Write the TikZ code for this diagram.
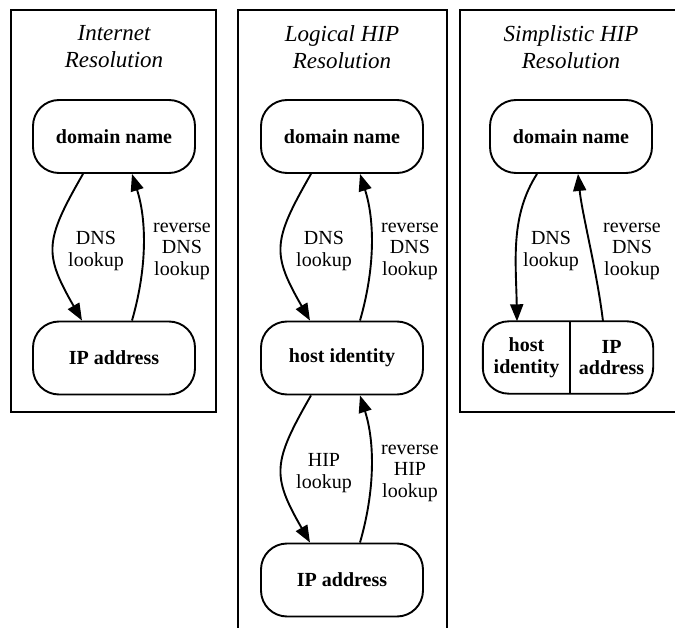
\documentclass[tikz,border=0pt]{standalone}
\usepackage{fontspec}
\setmainfont{Liberation Serif}
\usetikzlibrary{arrows.meta}
\begin{document}
\begin{tikzpicture}[x=1pt,y=-1pt,
  cluster/.style={draw,line width=1.9pt},
  gnode/.style={draw,line width=1.9pt,rounded corners=26pt,minimum width=162pt,minimum height=73pt,inner sep=0pt,align=center,font=\fontsize{20}{21.5}\selectfont\bfseries},
  rpart/.style={minimum height=72pt,inner sep=0pt,align=center,font=\fontsize{20}{21.5}\selectfont\bfseries},
  title/.style={align=center,inner sep=0pt,font=\fontsize{23}{27}\selectfont\itshape},
  elabel/.style={align=center,inner sep=0pt,font=\fontsize{20}{21.5}\selectfont},
  edge/.style={line width=1.9pt,-{Triangle[length=17pt,width=13pt]}}
]
\useasboundingbox (0,0) rectangle (675,628);
% clusters
\draw[cluster] (11,10) rectangle (216,412);
\draw[cluster] (238,640) -- (238,10) -- (447,10) -- (447,640);
\draw[cluster] (690,412) -- (460,412) -- (460,10) -- (690,10);
% titles
\node[title] (t1) at (114,47) {Internet\\Resolution};
\node[title] (t2) at (342,47) {Logical HIP\\Resolution};
\node[title] (t3) at (571,47) {Simplistic HIP\\Resolution};
% panel 1
\node[gnode] (dn1) at (114,136.5) {domain name};
\node[gnode] (ip1) at (114,358) {IP address};
\draw[edge] ([xshift=-31]dn1.south) .. controls +(-38.5,67) and +(-38.5,-67) .. ([xshift=-32]ip1.north);
\draw[edge] ([xshift=18]ip1.north) .. controls +(15,-52) and +(15,47) .. ([xshift=18]dn1.south);
\node[elabel] (l1a) at (96,251) {DNS\\lookup};
\node[elabel] (l1b) at (182,251) {reverse\\DNS\\lookup};
% panel 2
\node[gnode] (dn2) at (342,136.5) {domain name};
\node[gnode] (hi2) at (342,358) {host identity};
\node[gnode] (ip2) at (342,580) {IP address};
\draw[edge] ([xshift=-31]dn2.south) .. controls +(-38.5,67) and +(-38.5,-67) .. ([xshift=-32]hi2.north);
\draw[edge] ([xshift=18]hi2.north) .. controls +(15,-52) and +(15,47) .. ([xshift=18]dn2.south);
\draw[edge] ([xshift=-31]hi2.south) .. controls +(-38.5,67) and +(-38.5,-67) .. ([xshift=-32]ip2.north);
\draw[edge] ([xshift=18]ip2.north) .. controls +(15,-52) and +(15,47) .. ([xshift=18]hi2.south);
\node[elabel] (l2a) at (324,251) {DNS\\lookup};
\node[elabel] (l2b) at (410,251) {reverse\\DNS\\lookup};
\node[elabel] (l2c) at (324,473) {HIP\\lookup};
\node[elabel] (l2d) at (410,473) {reverse\\HIP\\lookup};
% panel 3
\node[gnode] (dn3) at (571,136.5) {domain name};
\node[rpart,minimum width=87pt] (hid) at (526.5,357.5) {host\\identity};
\node[rpart,minimum width=83pt] (ipa) at (611.5,357.5) {IP\\address};
\draw[line width=1.9pt,rounded corners=26pt] (hid.north west) rectangle (ipa.south east);
\draw[line width=1.9pt] (hid.north east) -- (hid.south east);
\draw[edge] ([xshift=-34]dn3.south) .. controls +(-27,42) and +(-1,-60) .. ([xshift=-9.5]hid.north);
\draw[edge] ([xshift=-8.5]ipa.north) .. controls +(-6,-50) and +(4,40) .. ([xshift=7]dn3.south);
\node[elabel] (l3a) at (551,251) {DNS\\lookup};
\node[elabel] (l3b) at (632,251) {reverse\\DNS\\lookup};
\end{tikzpicture}
\end{document}
